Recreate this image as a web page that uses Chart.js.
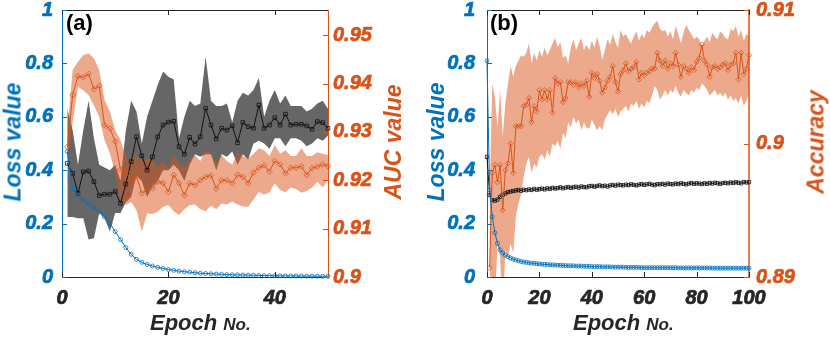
<!DOCTYPE html>
<html>
<head>
<meta charset="utf-8">
<script src="https://cdn.jsdelivr.net/npm/chart.js@4.4.1/dist/chart.umd.min.js"></script>
<style>
  html, body { margin: 0; padding: 0; background: #fff; overflow: hidden; }
  #wrap { position: relative; width: 830px; height: 340px; }
  canvas { position: absolute; top: 0; }
  .txt { position: absolute; font-family: 'Liberation Sans', Arial, sans-serif; font-weight: bold; line-height: 1; white-space: nowrap; }
  .ytitle { font-style: italic; font-size: 23px; transform: translate(-50%, -50%) rotate(-90deg); }
  .xtitle { font-style: italic; font-size: 22px; color: #262626; }
  .xtitle span { font-size: 17px; }
  .panel { font-size: 22px; color: #000; }
</style>
</head>
<body>
<div id="wrap">
  <canvas id="chartA" width="415" height="340" style="left:0"></canvas>
  <canvas id="chartB" width="415" height="340" style="left:415px"></canvas>

  <div class="txt panel" style="left:66px;top:12px">(a)</div>
  <div class="txt panel" style="left:490px;top:12px">(b)</div>

  <div class="txt ytitle" style="left:13px;top:142px;color:#0072BD">Loss value</div>
  <div class="txt ytitle" style="left:393px;top:142px;color:#D95319">AUC value</div>
  <div class="txt ytitle" style="left:436px;top:142px;color:#0072BD">Loss value</div>
  <div class="txt ytitle" style="left:816px;top:142px;color:#D95319">Accuracy</div>

  <div class="txt xtitle" style="left:150px;top:312px">Epoch <span>No.</span></div>
  <div class="txt xtitle" style="left:573px;top:312px">Epoch <span>No.</span></div>
</div>

<script>
const BLUE = '#0072BD';
const ORANGE = '#D95319';
const DARK = '#262626';

// ---- panel (a): 50 epochs ----
const lossA = [0.47, 0.33, 0.307, 0.29, 0.276, 0.262, 0.245, 0.225, 0.20, 0.17,
  0.14, 0.11, 0.085, 0.066, 0.055, 0.047, 0.041, 0.036, 0.032, 0.028,
  0.025, 0.022, 0.020, 0.018, 0.016, 0.014, 0.013, 0.012, 0.011, 0.010,
  0.009, 0.0085, 0.008, 0.0075, 0.007, 0.0065, 0.006, 0.0055, 0.005, 0.0048,
  0.0045, 0.0042, 0.004, 0.0038, 0.0036, 0.0034, 0.0032, 0.003, 0.0029, 0.0028];

const valLossA = [0.426, 0.388, 0.313, 0.394, 0.397, 0.357, 0.305, 0.31, 0.31, 0.32,
  0.276, 0.348, 0.432, 0.525, 0.454, 0.40, 0.45, 0.525, 0.569, 0.58,
  0.583, 0.488, 0.46, 0.523, 0.498, 0.525, 0.632, 0.569, 0.517, 0.557,
  0.55, 0.566, 0.503, 0.579, 0.563, 0.557, 0.644, 0.557, 0.569, 0.597,
  0.569, 0.61, 0.569, 0.572, 0.572, 0.566, 0.553, 0.582, 0.578, 0.557];
const valLossUpA = [0.63, 0.55, 0.42, 0.55, 0.66, 0.52, 0.42, 0.41, 0.40, 0.42,
  0.36, 0.55, 0.66, 0.62, 0.50, 0.60, 0.66, 0.72, 0.77, 0.75,
  0.74, 0.52, 0.60, 0.66, 0.64, 0.65, 0.825, 0.66, 0.64, 0.64,
  0.65, 0.58, 0.66, 0.69, 0.68, 0.70, 0.745, 0.60, 0.66, 0.70,
  0.65, 0.68, 0.64, 0.64, 0.64, 0.62, 0.63, 0.65, 0.66, 0.63];
const valLossLowA = [0.225, 0.225, 0.22, 0.22, 0.14, 0.145, 0.24, 0.22, 0.17, 0.24,
  0.24, 0.28, 0.30, 0.38, 0.36, 0.30, 0.34, 0.36, 0.40, 0.40,
  0.42, 0.40, 0.36, 0.42, 0.46, 0.45, 0.46, 0.46, 0.40, 0.46,
  0.45, 0.47, 0.42, 0.46, 0.44, 0.50, 0.51, 0.50, 0.48, 0.52,
  0.52, 0.49, 0.52, 0.52, 0.51, 0.49, 0.50, 0.52, 0.51, 0.53];

const aucA = [0.9269, 0.9376, 0.9415, 0.9413, 0.942, 0.9388, 0.9395, 0.9314, 0.9307, 0.928,
  0.9222, 0.9218, 0.9197, 0.9209, 0.9173, 0.918, 0.9183, 0.9197, 0.9194, 0.9176,
  0.9211, 0.9194, 0.9169, 0.9194, 0.919, 0.92, 0.9207, 0.921, 0.9183, 0.92,
  0.92, 0.9194, 0.9211, 0.9207, 0.9194, 0.9216, 0.9226, 0.9231, 0.9218, 0.924,
  0.9233, 0.9214, 0.9226, 0.9226, 0.9229, 0.9211, 0.9225, 0.9228, 0.9233, 0.9229];
const aucUpA = [0.930, 0.9428, 0.9445, 0.9459, 0.9462, 0.9452, 0.9428, 0.9366, 0.9342, 0.9304,
  0.9283, 0.9249, 0.9235, 0.9252, 0.9240, 0.9245, 0.9242, 0.9228, 0.9240, 0.9225,
  0.9252, 0.9235, 0.9225, 0.9245, 0.9252, 0.9240, 0.9262, 0.9255, 0.9235, 0.9252,
  0.9240, 0.9232, 0.9258, 0.9250, 0.9245, 0.9255, 0.9266, 0.9262, 0.9250, 0.9273,
  0.9255, 0.9262, 0.9250, 0.9250, 0.9266, 0.9250, 0.9250, 0.9258, 0.9255, 0.9252];
const aucLowA = [0.924, 0.932, 0.9393, 0.9386, 0.9376, 0.9355, 0.9331, 0.9283, 0.9256, 0.9215,
  0.9159, 0.9149, 0.9155, 0.9138, 0.9094, 0.9132, 0.9130, 0.9135, 0.9145, 0.9149,
  0.9136, 0.9128, 0.9140, 0.9149, 0.9150, 0.9140, 0.9136, 0.9148, 0.9140, 0.9152,
  0.9150, 0.9156, 0.9150, 0.9146, 0.9145, 0.9160, 0.9176, 0.9170, 0.9175, 0.9194,
  0.9180, 0.9175, 0.9185, 0.9182, 0.9174, 0.9178, 0.9185, 0.9197, 0.9185, 0.9200];

// ---- panel (b): 100 epochs (loss curves start at epoch 0) ----
const lossB = [0.81, 0.326, 0.226, 0.166, 0.126, 0.102, 0.09, 0.082, 0.076, 0.071,
  0.067, 0.064, 0.061, 0.058, 0.056, 0.055, 0.053, 0.052, 0.051, 0.050,
  0.049, 0.048, 0.047, 0.047, 0.046, 0.045, 0.045, 0.044, 0.044, 0.043,
  0.043, 0.042, 0.042, 0.042, 0.041, 0.041, 0.041, 0.040, 0.040, 0.040,
  0.039, 0.039, 0.039, 0.039, 0.038, 0.038, 0.038, 0.038, 0.037, 0.037,
  0.037, 0.037, 0.037, 0.036, 0.036, 0.036, 0.036, 0.036, 0.036, 0.035,
  0.035, 0.035, 0.035, 0.035, 0.035, 0.035, 0.035, 0.035, 0.035, 0.035,
  0.035, 0.035, 0.035, 0.034, 0.034, 0.034, 0.034, 0.034, 0.034, 0.034,
  0.034, 0.034, 0.034, 0.034, 0.034, 0.034, 0.033, 0.033, 0.033, 0.033,
  0.033, 0.033, 0.033, 0.033, 0.033, 0.033, 0.033, 0.033, 0.033, 0.033,
  0.033];
const valLossB = [0.45, 0.307, 0.288, 0.286, 0.29, 0.30, 0.308, 0.313, 0.318, 0.32,
  0.322, 0.324, 0.326, 0.323, 0.327, 0.325, 0.328, 0.326, 0.33, 0.327,
  0.329, 0.331, 0.328, 0.332, 0.33, 0.334, 0.331, 0.333, 0.336, 0.332,
  0.335, 0.337, 0.334, 0.336, 0.338, 0.335, 0.339, 0.337, 0.336, 0.34,
  0.341, 0.338, 0.341, 0.343, 0.34, 0.342, 0.339, 0.343, 0.345, 0.342,
  0.346, 0.344, 0.343, 0.346, 0.344, 0.347, 0.345, 0.343, 0.346, 0.348,
  0.345, 0.347, 0.349, 0.346, 0.344, 0.348, 0.347, 0.349, 0.346, 0.35,
  0.348, 0.347, 0.35, 0.348, 0.351, 0.349, 0.347, 0.35, 0.352, 0.349,
  0.351, 0.35, 0.348, 0.351, 0.349, 0.352, 0.35, 0.353, 0.351, 0.349,
  0.352, 0.353, 0.351, 0.354, 0.352, 0.355, 0.353, 0.351, 0.356, 0.354,
  0.355];

const accB = [0.8907, 0.8978, 0.8984, 0.8971, 0.8984, 0.8950, 0.8980, 0.8985, 0.9000, 0.8978,
  0.9013, 0.9013, 0.9013, 0.9028, 0.9029, 0.9034, 0.9016, 0.9028, 0.9024, 0.9040,
  0.9033, 0.9040, 0.9033, 0.9040, 0.9023, 0.9049, 0.9045, 0.9046, 0.9031, 0.9034,
  0.9046, 0.9046, 0.9044, 0.9046, 0.9042, 0.9045, 0.9043, 0.9047, 0.9035, 0.9053,
  0.9049, 0.9052, 0.9047, 0.9038, 0.9042, 0.9047, 0.9050, 0.9058, 0.9046, 0.9039,
  0.9052, 0.9055, 0.9060, 0.9054, 0.9056, 0.9057, 0.9061, 0.9048, 0.9053, 0.9051,
  0.9053, 0.9054, 0.9056, 0.9056, 0.9068, 0.9062, 0.9058, 0.9062, 0.9056, 0.9060,
  0.9058, 0.9068, 0.9059, 0.9050, 0.9058, 0.9056, 0.9053, 0.9057, 0.9055, 0.9061,
  0.9064, 0.9074, 0.9062, 0.9059, 0.9050, 0.9057, 0.9058, 0.9056, 0.9057, 0.9059,
  0.9060, 0.9055, 0.9059, 0.9060, 0.9068, 0.9048, 0.9068, 0.9052, 0.9056, 0.9066];
const accUpB = [0.8960, 0.9045, 0.9035, 0.9012, 0.9040, 0.9005, 0.9030, 0.9045, 0.9058, 0.9050,
  0.9058, 0.9062, 0.9066, 0.9065, 0.9068, 0.9075, 0.9060, 0.9068, 0.9062, 0.9070,
  0.9065, 0.9072, 0.9066, 0.9070, 0.9075, 0.9079, 0.9072, 0.9076, 0.9064, 0.9066,
  0.9060, 0.9072, 0.9078, 0.9070, 0.9075, 0.9079, 0.9070, 0.9074, 0.9070, 0.9077,
  0.9072, 0.9080, 0.9073, 0.9063, 0.9070, 0.9078, 0.9074, 0.9082, 0.9076, 0.9072,
  0.9085, 0.9080, 0.9082, 0.9078, 0.9075, 0.9080, 0.9084, 0.9077, 0.9082, 0.9079,
  0.9085, 0.9083, 0.9087, 0.9090, 0.9092, 0.9086, 0.9084, 0.9085, 0.9080, 0.9084,
  0.9078, 0.9088, 0.9082, 0.9075, 0.9083, 0.9089, 0.9085, 0.9082, 0.9078, 0.9080,
  0.9078, 0.9073, 0.9077, 0.9080, 0.9076, 0.9083, 0.9080, 0.9078, 0.9084, 0.9082,
  0.9079, 0.9078, 0.9086, 0.9084, 0.9088, 0.9080, 0.9085, 0.9077, 0.9082, 0.9080];
const accLowB = [0.8850, 0.8860, 0.8880, 0.8925, 0.8915, 0.8870, 0.8920, 0.8915, 0.8925, 0.8918,
  0.8945, 0.8955, 0.8962, 0.8975, 0.8985, 0.8990, 0.8978, 0.8985, 0.8982, 0.8990,
  0.8992, 0.8988, 0.8995, 0.8990, 0.9000, 0.8998, 0.9002, 0.8996, 0.9008, 0.9004,
  0.9016, 0.9012, 0.9020, 0.9015, 0.9018, 0.9010, 0.9016, 0.9012, 0.9011, 0.9018,
  0.9014, 0.9010, 0.9013, 0.9010, 0.9018, 0.9022, 0.9025, 0.9022, 0.9026, 0.9020,
  0.9024, 0.9026, 0.9028, 0.9024, 0.9030, 0.9028, 0.9032, 0.9026, 0.9030, 0.9027,
  0.9032, 0.9030, 0.9036, 0.9043, 0.9040, 0.9033, 0.9036, 0.9040, 0.9036, 0.9040,
  0.9038, 0.9043, 0.9038, 0.9035, 0.9040, 0.9038, 0.9036, 0.9040, 0.9038, 0.9042,
  0.9040, 0.9045, 0.9043, 0.9040, 0.9036, 0.9038, 0.9040, 0.9036, 0.9038, 0.9035,
  0.9038, 0.9033, 0.9036, 0.9032, 0.9034, 0.9030, 0.9036, 0.9028, 0.9032, 0.9038];

const epochsA = lossA.map((_, i) => i + 1);
const epochsB0 = lossB.map((_, i) => i);
const epochsB1 = accB.map((_, i) => i + 1);

const pts = (xs, ys) => ys.map((v, i) => ({ x: xs[i], y: v }));
const fmt = v => String(+(+v).toFixed(3));

const FAMILY = "'Liberation Sans', Arial, sans-serif";
Chart.defaults.font.family = FAMILY;
Chart.defaults.font.size = 20;
Chart.defaults.font.weight = 'bold';
Chart.defaults.font.style = 'italic';

// inward tick marks and the top edge of the box, like a MATLAB axes
const frame = {
  id: 'frame',
  afterDatasetsDraw(chart) {
    const { ctx, chartArea: a, scales } = chart;
    const L = 5;
    ctx.save();
    ctx.lineWidth = 1;
    ctx.strokeStyle = DARK;
    ctx.beginPath();
    ctx.moveTo(a.left, a.top + 0.5);
    ctx.lineTo(a.right, a.top + 0.5);
    scales.x.ticks.forEach(t => {
      const px = Math.round(scales.x.getPixelForValue(t.value)) + 0.5;
      ctx.moveTo(px, a.bottom); ctx.lineTo(px, a.bottom - L);
      ctx.moveTo(px, a.top); ctx.lineTo(px, a.top + L);
    });
    ctx.stroke();
    ctx.strokeStyle = BLUE;
    ctx.beginPath();
    scales.y.ticks.forEach(t => {
      const py = Math.round(scales.y.getPixelForValue(t.value)) + 0.5;
      ctx.moveTo(a.left, py); ctx.lineTo(a.left + L, py);
    });
    ctx.stroke();
    ctx.strokeStyle = ORANGE;
    ctx.beginPath();
    scales.y1.ticks.forEach(t => {
      const py = Math.round(scales.y1.getPixelForValue(t.value)) + 0.5;
      ctx.moveTo(a.right, py); ctx.lineTo(a.right - L, py);
    });
    ctx.stroke();
    ctx.restore();
  }
};

function band(xs, up, low, axis, color, order) {
  return [
    { data: pts(xs, up), yAxisID: axis, fill: '+1', backgroundColor: color,
      borderWidth: 0, pointRadius: 0, order: order },
    { data: pts(xs, low), yAxisID: axis, fill: false,
      borderWidth: 0, pointRadius: 0, order: order }
  ];
}

function line(xs, ys, axis, color, style, r, order) {
  return { data: pts(xs, ys), yAxisID: axis, borderColor: color, borderWidth: 1,
    pointStyle: style, pointRadius: r, pointBorderColor: color, pointBorderWidth: 0.8,
    pointBackgroundColor: 'rgba(0,0,0,0)', fill: false, order: order, clip: 5 };
}

// fixed axis sizes so the plot box lands where it is in the figure
const fixW = w => s => { s.width = w; s.paddingTop = 0; s.paddingBottom = 0; };
const fixH = h => s => { s.height = h; s.paddingLeft = 0; s.paddingRight = 0; };

function tickOpts(color, padding, extra) {
  return Object.assign({
    color: color, padding: padding,
    font: { family: FAMILY, size: 20, weight: 'bold', style: 'italic' },
    textStrokeColor: color, textStrokeWidth: 0.7
  }, extra);
}

function makeChart(id, datasets, sc) {
  return new Chart(document.getElementById(id), {
    type: 'line',
    data: { datasets: datasets },
    options: {
      responsive: false,
      animation: false,
      elements: { line: { tension: 0 } },
      layout: { padding: { top: 10, left: 0, right: 0, bottom: 0 } },
      plugins: { legend: { display: false }, tooltip: { enabled: false } },
      scales: {
        x: {
          type: 'linear', min: 0, max: sc.xMax,
          grid: { display: false, drawTicks: false },
          border: { color: DARK, width: 1 },
          ticks: tickOpts(DARK, 9, { stepSize: 20, includeBounds: false, maxRotation: 0 }),
          afterFit: fixH(63)
        },
        y: {
          position: 'left', min: 0, max: 1,
          grid: { display: false, drawTicks: false },
          border: { color: BLUE, width: 1 },
          ticks: tickOpts(BLUE, sc.padL, { stepSize: 0.2, callback: fmt }),
          afterFit: fixW(sc.wL)
        },
        y1: {
          position: 'right', min: sc.rMin, max: sc.rMax,
          grid: { display: false, drawTicks: false },
          border: { color: sc.rBorder, width: sc.rBorderW },
          ticks: tickOpts(ORANGE, sc.padR, { stepSize: 0.01, includeBounds: false, callback: fmt }),
          afterFit: fixW(sc.wR)
        }
      }
    },
    plugins: [frame]
  });
}

const charts = [];

charts.push(makeChart('chartA', [
  ...band(epochsA, valLossUpA, valLossLowA, 'y', 'rgba(0,0,0,0.6)', 6),
  ...band(epochsA, aucUpA, aucLowA, 'y1', 'rgba(217,83,25,0.5)', 5),
  line(epochsA, valLossA, 'y', '#111111', 'rect', 2.6, 3),
  line(epochsA, aucA, 'y1', ORANGE, 'rectRot', 2.8, 2),
  line(epochsA, lossA, 'y', BLUE, 'circle', 2, 1)
], { xMax: 50, rMin: 0.9, rMax: 0.9552, wL: 62, wR: 87, padL: 9, padR: 5, rBorder: ORANGE, rBorderW: 1 }));

charts.push(makeChart('chartB', [
  ...band(epochsB1, accUpB, accLowB, 'y1', 'rgba(217,83,25,0.5)', 5),
  line(epochsB0, valLossB, 'y', '#111111', 'rect', 2.3, 3),
  line(epochsB1, accB, 'y1', ORANGE, 'rectRot', 2.6, 2),
  line(epochsB0, lossB, 'y', BLUE, 'circle', 2, 1)
], { xMax: 100, rMin: 0.89, rMax: 0.91, wL: 72, wR: 81, padL: 12, padR: 7, rBorder: 'rgba(217,83,25,0.75)', rBorderW: 2 }));

// redraw once the bold italic face is ready so the canvas tick labels use it
const redraw = () => charts.forEach(c => c.update('none'));
document.fonts.load('italic bold 20px "Liberation Sans"').then(redraw);
window.addEventListener('load', redraw);
</script>
</body>
</html>
